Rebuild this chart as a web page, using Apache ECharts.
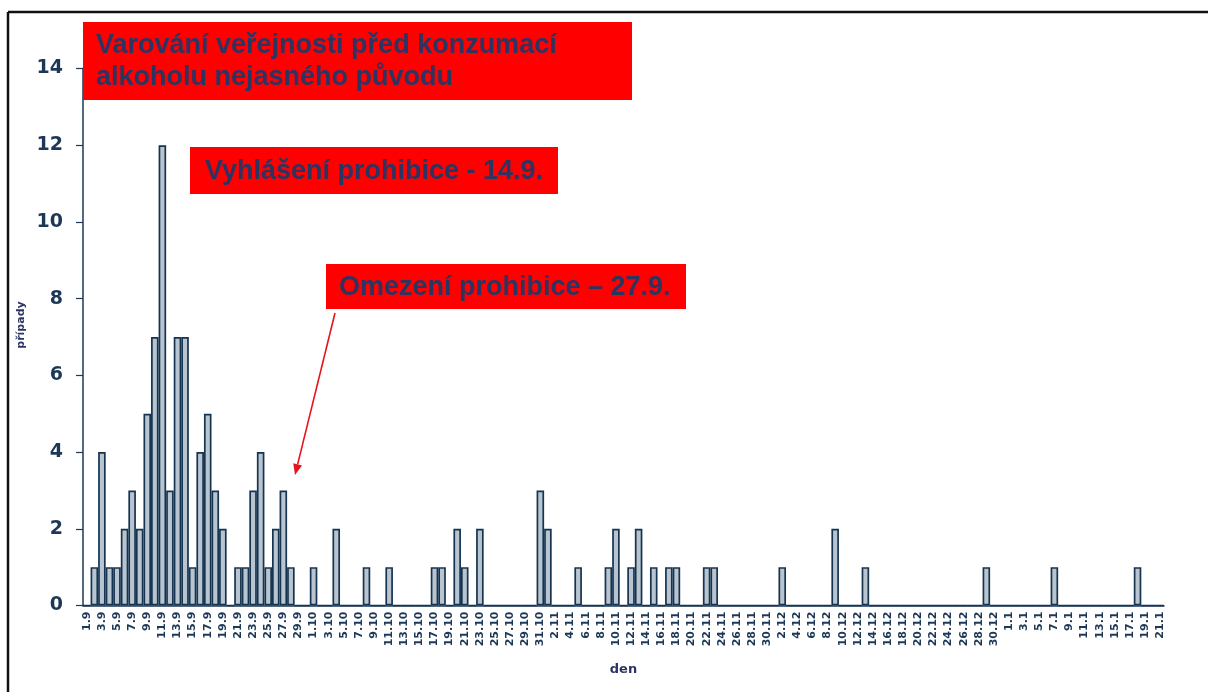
<!DOCTYPE html>
<html>
<head>
<meta charset="utf-8">
<script src="https://cdn.jsdelivr.net/npm/echarts@6/dist/echarts.min.js"></script>
<style>
  html, body { margin: 0; padding: 0; background: #ffffff; }
  #chart { width: 1208px; height: 692px; }
</style>
</head>
<body>
<div id="chart"></div>
<script>
// Daily counts of cases (den = day), September through 21 January
const monthNumbers = [9, 10, 11, 12, 1];
const septCases = [0,1,4,1,1,2,3,2,5,7, 12,3,7,7,1,4,5,3,2,0, 1,1,3,4,1,2,3,1,0,0];
const octCases  = [1,0,0,2,0,0,0,1,0,0, 1,0,0,0,0,0,1,1,0,2, 1,0,2,0,0,0,0,0,0,0, 3];
const novCases  = [2,0,0,0,1,0,0,0,1,2, 0,1,2,0,1,0,1,1,0,0, 0,1,1,0,0,0,0,0,0,0];
const decCases  = [0,1,0,0,0,0,0,0,2,0, 0,0,1,0,0,0,0,0,0,0, 0,0,0,0,0,0,0,0,1,0, 0];
const janCases  = [0,0,0,0,0,0,1,0,0,0, 0,0,0,0,0,0,0,1,0,0, 0];
const monthCases = [septCases, octCases, novCases, decCases, janCases];

const yTicks = { min: 0, max: 14, step: 2 };

const axisTitleX = 'den';
const axisTitleY = 'případy';
const noteWarning = ['Varování veřejnosti před konzumací', 'alkoholu nejasného původu'];
const noteProhibition = 'Vyhlášení prohibice - 14.9.';
const noteEasing = 'Omezení prohibice – 27.9.';

// day labels "d.m" and the matching counts
const days = [];
const cases = [];
monthCases.forEach(function (list, mi) {
  list.forEach(function (v, di) {
    days.push((di + 1) + '.' + monthNumbers[mi]);
    cases.push(v);
  });
});

const navy = '#1d3856';
const textNavy = '#2c3462';
const red = '#ff0000';
const boxFont = 'bold 27px "Liberation Sans", Arial, sans-serif';

// arrow geometry
const arrowTail = [335, 313];
const arrowTip = [295, 475];
const ax = arrowTip[0] - arrowTail[0], ay = arrowTip[1] - arrowTail[1];
const alen = Math.sqrt(ax * ax + ay * ay);
const ux = ax / alen, uy = ay / alen;
const headLen = 11, headHalf = 4.5;
const baseX = arrowTip[0] - ux * headLen, baseY = arrowTip[1] - uy * headLen;

const chart = echarts.init(document.getElementById('chart'), null, { renderer: 'canvas' });

chart.setOption({
  backgroundColor: '#ffffff',
  animation: false,
  grid: { left: 83, right: 44, top: 68.5, bottom: 86.5, containLabel: false },
  xAxis: {
    type: 'category',
    data: days,
    boundaryGap: true,
    name: axisTitleX,
    nameLocation: 'middle',
    nameGap: 58,
    nameTextStyle: { color: textNavy, fontSize: 13, fontWeight: 'bold', fontFamily: '"DejaVu Sans", sans-serif' },
    axisLine: { lineStyle: { color: navy, width: 1.5 } },
    axisTick: { interval: 1, alignWithLabel: false, length: 5, lineStyle: { color: navy, width: 1.2 } },
    axisLabel: {
      interval: 1,
      rotate: 90,
      margin: 6,
      color: navy,
      fontSize: 11,
      fontWeight: 'bold',
      fontFamily: '"DejaVu Sans", sans-serif'
    },
    splitLine: { show: false }
  },
  yAxis: {
    type: 'value',
    min: yTicks.min,
    max: yTicks.max,
    interval: yTicks.step,
    axisLine: { show: true, lineStyle: { color: navy, width: 1.5 } },
    axisTick: { show: true, length: 7, lineStyle: { color: navy, width: 1.2 } },
    axisLabel: {
      margin: 20,
      color: navy,
      fontSize: 19,
      fontWeight: 'bold',
      fontFamily: '"DejaVu Sans", sans-serif'
    },
    splitLine: { show: false }
  },
  series: [{
    type: 'bar',
    data: cases,
    barWidth: '100%',
    barCategoryGap: '0%',
    itemStyle: { color: '#b8c5d0', borderColor: '#16344f', borderWidth: 1.7 },
    emphasis: { disabled: true }
  }],
  graphic: [
    // frame lines
    { type: 'line', z: 100, shape: { x1: 8, y1: 12, x2: 1208, y2: 12 }, style: { stroke: '#111111', lineWidth: 2.5 } },
    { type: 'line', z: 100, shape: { x1: 8, y1: 12, x2: 8, y2: 692 }, style: { stroke: '#111111', lineWidth: 2.5 } },
    // y axis title
    {
      type: 'text', z: 100, x: 21, y: 325, rotation: Math.PI / 2,
      style: { text: axisTitleY, fill: textNavy, font: 'bold 11px "DejaVu Sans", sans-serif', textAlign: 'center', textVerticalAlign: 'middle' }
    },
    // warning note
    { type: 'rect', z: 100, shape: { x: 83, y: 22, width: 549, height: 78 }, style: { fill: red } },
    {
      type: 'text', z: 101, x: 96, y: 30,
      style: { text: noteWarning.join('\n'), fill: textNavy, font: boxFont, lineHeight: 32, textAlign: 'left', textVerticalAlign: 'top' }
    },
    // prohibition note
    { type: 'rect', z: 100, shape: { x: 190, y: 147, width: 368, height: 47 }, style: { fill: red } },
    {
      type: 'text', z: 101, x: 205, y: 172,
      style: { text: noteProhibition, fill: textNavy, font: boxFont, textAlign: 'left', textVerticalAlign: 'middle' }
    },
    // easing note
    { type: 'rect', z: 100, shape: { x: 326, y: 264, width: 360, height: 45 }, style: { fill: red } },
    {
      type: 'text', z: 101, x: 339, y: 288,
      style: { text: noteEasing, fill: textNavy, font: boxFont, textAlign: 'left', textVerticalAlign: 'middle' }
    },
    // arrow
    {
      type: 'line', z: 100,
      shape: { x1: arrowTail[0], y1: arrowTail[1], x2: baseX, y2: baseY },
      style: { stroke: '#e3141b', lineWidth: 1.6 }
    },
    {
      type: 'polygon', z: 100,
      shape: { points: [
        [arrowTip[0], arrowTip[1]],
        [baseX + uy * headHalf, baseY - ux * headHalf],
        [baseX - uy * headHalf, baseY + ux * headHalf]
      ] },
      style: { fill: '#e3141b' }
    }
  ]
});
</script>
</body>
</html>
